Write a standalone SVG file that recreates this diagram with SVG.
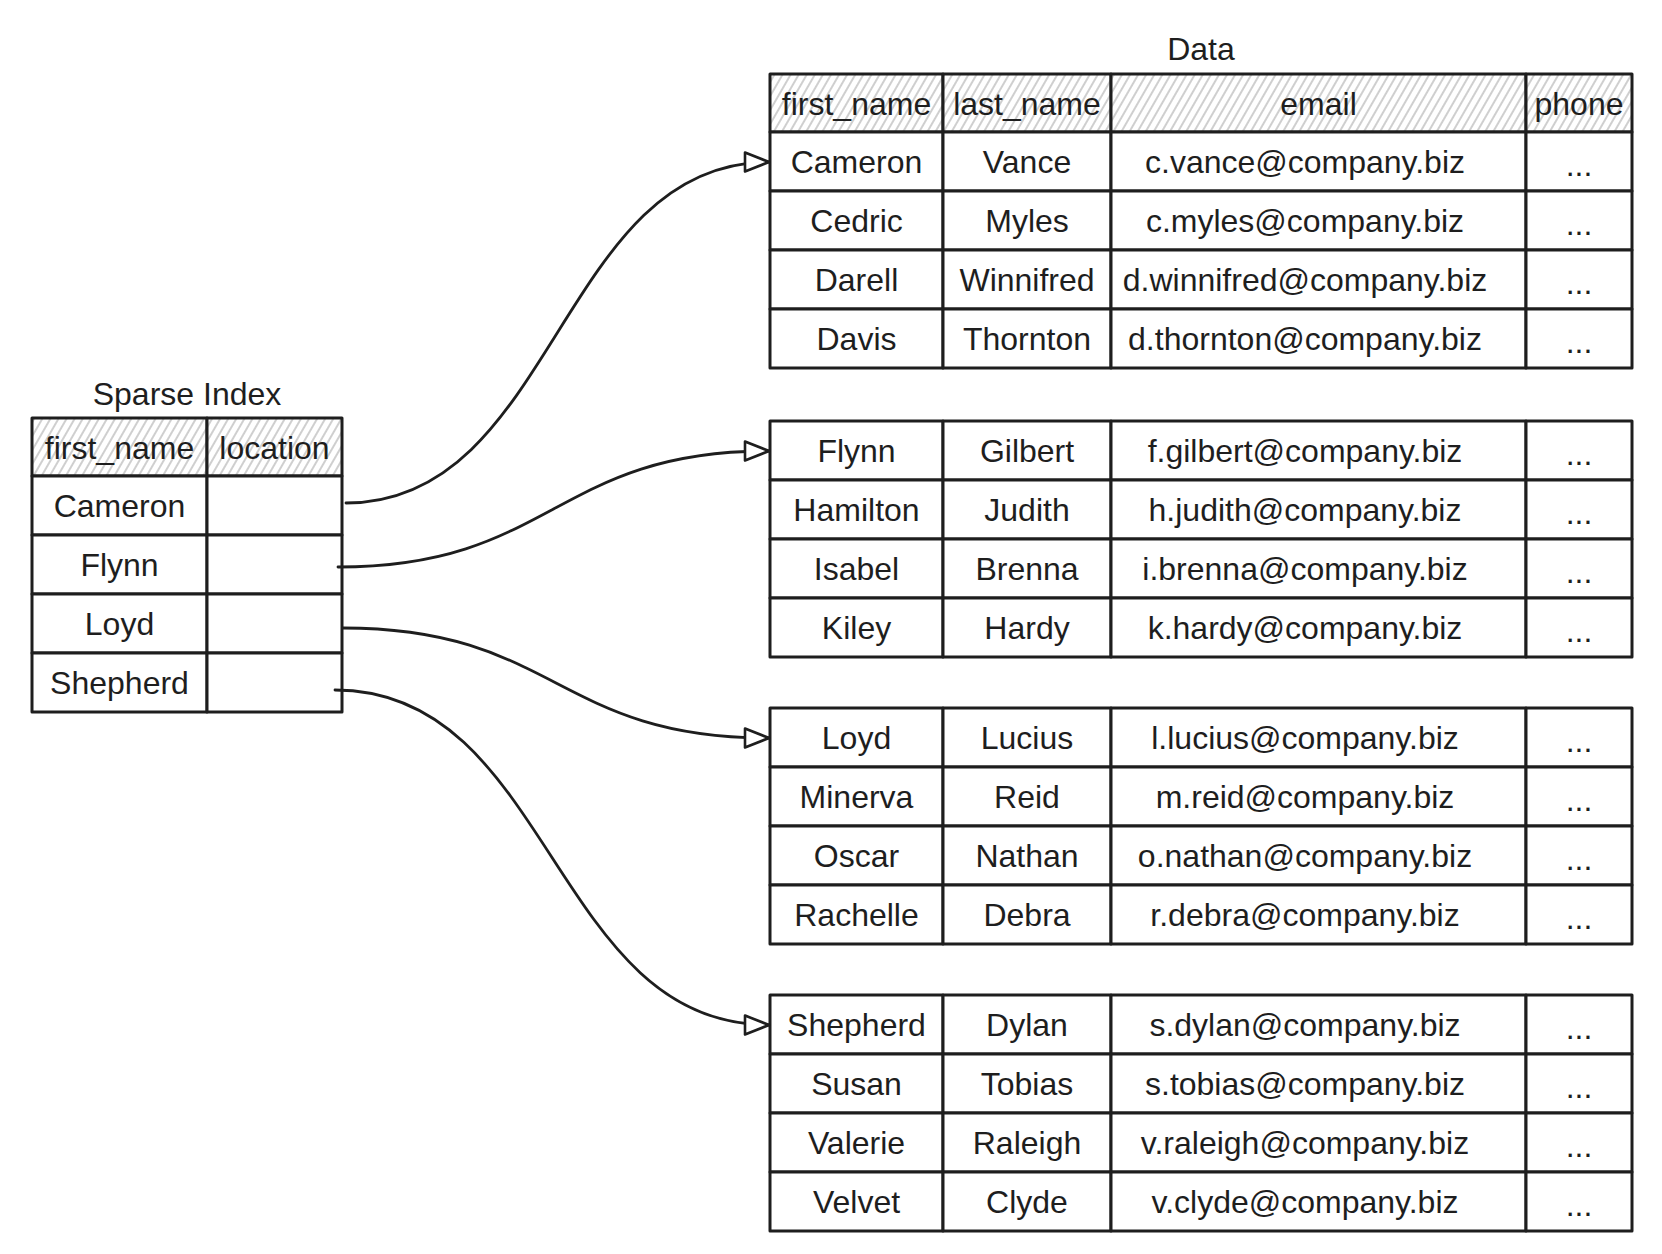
<svg xmlns="http://www.w3.org/2000/svg" xmlns:xlink="http://www.w3.org/1999/xlink" width="1662" height="1254" viewBox="0 0 1662 1254">
<style>
.cell{fill:#ffffff;stroke:#1e1e1e;stroke-width:3;stroke-linejoin:round}
.hdr{fill:url(#hatch);stroke:#1e1e1e;stroke-width:3;stroke-linejoin:round}
.t{font-family:"Liberation Sans",Arial,sans-serif;font-size:32px;fill:#1e1e1e;text-anchor:middle}
.conn{fill:none;stroke:#1e1e1e;stroke-width:2.8;stroke-linecap:round;marker-end:url(#arrow)}
</style>
<defs>
<pattern id="hatch" width="7" height="7" patternUnits="userSpaceOnUse" patternTransform="rotate(30)">
<rect width="7" height="7" fill="#ffffff"/>
<line x1="1" y1="0" x2="1" y2="7" stroke="#c0c0c0" stroke-width="1.5"/>
</pattern>
<marker id="arrow" markerUnits="userSpaceOnUse" markerWidth="28" markerHeight="22" viewBox="0 0 28 22" refX="26" refY="11" orient="auto">
<path d="M2,1.5 L26,11 L2,20.5 Z" fill="#ffffff" stroke="#1e1e1e" stroke-width="2.6" stroke-linejoin="round"/>
</marker>
<g id="drow">
<rect class="cell" x="770" y="0" width="173" height="59"/>
<rect class="cell" x="943" y="0" width="168" height="59"/>
<rect class="cell" x="1111" y="0" width="415" height="59"/>
<rect class="cell" x="1526" y="0" width="106" height="59"/>
</g>
<g id="srow">
<rect class="cell" x="32" y="0" width="175" height="59"/>
<rect class="cell" x="207" y="0" width="135" height="59"/>
</g>
</defs>
<rect width="1662" height="1254" fill="#ffffff"/>

<g id="sparse-index">
<text class="t" x="187" y="405">Sparse Index</text>
<g id="sparse-header">
<rect class="hdr" x="32" y="418" width="175" height="58"/>
<rect class="hdr" x="207" y="418" width="135" height="58"/>
<text class="t" x="119.5" y="458.5">first_name</text>
<text class="t" x="274.5" y="458.5">location</text>
</g>
<g id="s-cameron" transform="translate(0,476)"><use href="#srow"/><text class="t" x="119.5" y="41">Cameron</text></g>
<g id="s-flynn" transform="translate(0,535)"><use href="#srow"/><text class="t" x="119.5" y="41">Flynn</text></g>
<g id="s-loyd" transform="translate(0,594)"><use href="#srow"/><text class="t" x="119.5" y="41">Loyd</text></g>
<g id="s-shepherd" transform="translate(0,653)"><use href="#srow"/><text class="t" x="119.5" y="41">Shepherd</text></g>
</g>

<g id="data">
<text class="t" x="1201" y="60">Data</text>
<g id="data-header">
<rect class="hdr" x="770" y="74" width="173" height="58"/>
<rect class="hdr" x="943" y="74" width="168" height="58"/>
<rect class="hdr" x="1111" y="74" width="415" height="58"/>
<rect class="hdr" x="1526" y="74" width="106" height="58"/>
<text class="t" x="856.5" y="114.5">first_name</text>
<text class="t" x="1027" y="114.5">last_name</text>
<text class="t" x="1318.5" y="114.5">email</text>
<text class="t" x="1579" y="114.5">phone</text>
</g>

<g id="block-1">
<g id="d-cameron" transform="translate(0,132)"><use href="#drow"/><text class="t" x="856.5" y="41">Cameron</text><text class="t" x="1027" y="41">Vance</text><text class="t" x="1305" y="41">c.vance@company.biz</text><text class="t" x="1579" y="44">...</text></g>
<g id="d-cedric" transform="translate(0,191)"><use href="#drow"/><text class="t" x="856.5" y="41">Cedric</text><text class="t" x="1027" y="41">Myles</text><text class="t" x="1305" y="41">c.myles@company.biz</text><text class="t" x="1579" y="44">...</text></g>
<g id="d-darell" transform="translate(0,250)"><use href="#drow"/><text class="t" x="856.5" y="41">Darell</text><text class="t" x="1027" y="41">Winnifred</text><text class="t" x="1305" y="41">d.winnifred@company.biz</text><text class="t" x="1579" y="44">...</text></g>
<g id="d-davis" transform="translate(0,309)"><use href="#drow"/><text class="t" x="856.5" y="41">Davis</text><text class="t" x="1027" y="41">Thornton</text><text class="t" x="1305" y="41">d.thornton@company.biz</text><text class="t" x="1579" y="44">...</text></g>
</g>

<g id="block-2">
<g id="d-flynn" transform="translate(0,421)"><use href="#drow"/><text class="t" x="856.5" y="41">Flynn</text><text class="t" x="1027" y="41">Gilbert</text><text class="t" x="1305" y="41">f.gilbert@company.biz</text><text class="t" x="1579" y="44">...</text></g>
<g id="d-hamilton" transform="translate(0,480)"><use href="#drow"/><text class="t" x="856.5" y="41">Hamilton</text><text class="t" x="1027" y="41">Judith</text><text class="t" x="1305" y="41">h.judith@company.biz</text><text class="t" x="1579" y="44">...</text></g>
<g id="d-isabel" transform="translate(0,539)"><use href="#drow"/><text class="t" x="856.5" y="41">Isabel</text><text class="t" x="1027" y="41">Brenna</text><text class="t" x="1305" y="41">i.brenna@company.biz</text><text class="t" x="1579" y="44">...</text></g>
<g id="d-kiley" transform="translate(0,598)"><use href="#drow"/><text class="t" x="856.5" y="41">Kiley</text><text class="t" x="1027" y="41">Hardy</text><text class="t" x="1305" y="41">k.hardy@company.biz</text><text class="t" x="1579" y="44">...</text></g>
</g>

<g id="block-3">
<g id="d-loyd" transform="translate(0,708)"><use href="#drow"/><text class="t" x="856.5" y="41">Loyd</text><text class="t" x="1027" y="41">Lucius</text><text class="t" x="1305" y="41">l.lucius@company.biz</text><text class="t" x="1579" y="44">...</text></g>
<g id="d-minerva" transform="translate(0,767)"><use href="#drow"/><text class="t" x="856.5" y="41">Minerva</text><text class="t" x="1027" y="41">Reid</text><text class="t" x="1305" y="41">m.reid@company.biz</text><text class="t" x="1579" y="44">...</text></g>
<g id="d-oscar" transform="translate(0,826)"><use href="#drow"/><text class="t" x="856.5" y="41">Oscar</text><text class="t" x="1027" y="41">Nathan</text><text class="t" x="1305" y="41">o.nathan@company.biz</text><text class="t" x="1579" y="44">...</text></g>
<g id="d-rachelle" transform="translate(0,885)"><use href="#drow"/><text class="t" x="856.5" y="41">Rachelle</text><text class="t" x="1027" y="41">Debra</text><text class="t" x="1305" y="41">r.debra@company.biz</text><text class="t" x="1579" y="44">...</text></g>
</g>

<g id="block-4">
<g id="d-shepherd" transform="translate(0,995)"><use href="#drow"/><text class="t" x="856.5" y="41">Shepherd</text><text class="t" x="1027" y="41">Dylan</text><text class="t" x="1305" y="41">s.dylan@company.biz</text><text class="t" x="1579" y="44">...</text></g>
<g id="d-susan" transform="translate(0,1054)"><use href="#drow"/><text class="t" x="856.5" y="41">Susan</text><text class="t" x="1027" y="41">Tobias</text><text class="t" x="1305" y="41">s.tobias@company.biz</text><text class="t" x="1579" y="44">...</text></g>
<g id="d-valerie" transform="translate(0,1113)"><use href="#drow"/><text class="t" x="856.5" y="41">Valerie</text><text class="t" x="1027" y="41">Raleigh</text><text class="t" x="1305" y="41">v.raleigh@company.biz</text><text class="t" x="1579" y="44">...</text></g>
<g id="d-velvet" transform="translate(0,1172)"><use href="#drow"/><text class="t" x="856.5" y="41">Velvet</text><text class="t" x="1027" y="41">Clyde</text><text class="t" x="1305" y="41">v.clyde@company.biz</text><text class="t" x="1579" y="44">...</text></g>
</g>
</g>

<g id="connectors">
<path class="conn" d="M346,503 C556,503 559,162 769,162"/>
<path class="conn" d="M338,567 C553,567 554,451 769,451"/>
<path class="conn" d="M343,628 C556,628 556,738 769,738"/>
<path class="conn" d="M335,690 C552,690 552,1025 769,1025"/>
</g>
</svg>
